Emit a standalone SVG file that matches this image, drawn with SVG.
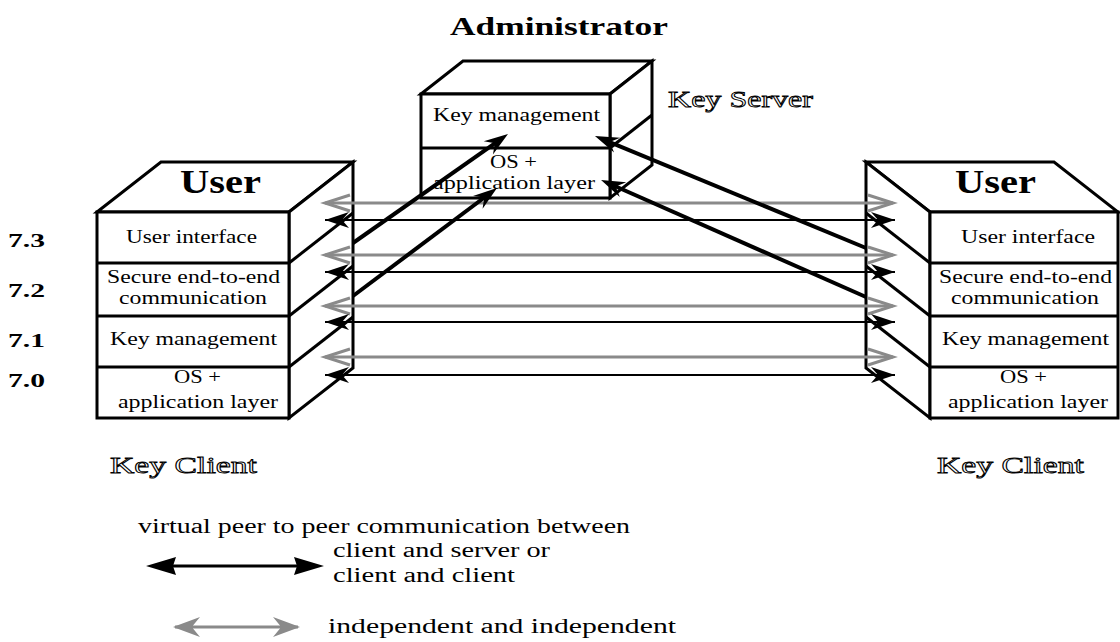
<svg xmlns="http://www.w3.org/2000/svg" width="1120" height="642" viewBox="0 0 1120 642">
<style>
.box{fill:#fff;stroke:#000;stroke-width:3;stroke-linejoin:miter}
.t{font-family:"Liberation Serif",serif;font-size:18px;fill:#000}
.b{font-family:"Liberation Serif",serif;font-weight:bold;fill:#000}
.o{font-family:"Liberation Serif",serif;font-size:24px;fill:#fff;stroke:#000;stroke-width:0.9}
.lg{font-family:"Liberation Serif",serif;font-size:20px;fill:#000}
.gray{stroke:#8a8a8a;stroke-width:3;fill:none}
.blk{stroke:#000;stroke-width:2;fill:none}
.thick{stroke:#000;stroke-width:4;fill:none}
</style>
<defs>
<marker id="mg" markerUnits="userSpaceOnUse" orient="auto-start-reverse" refX="0" refY="0" markerWidth="30" markerHeight="30" overflow="visible">
<path d="M-25,-8 L0,0 L-25,8" fill="none" stroke="#8a8a8a" stroke-width="3"/>
</marker>
<marker id="mb" markerUnits="userSpaceOnUse" orient="auto-start-reverse" refX="0" refY="0" markerWidth="30" markerHeight="30" overflow="visible">
<path d="M0,0 L-24,-8 L-17,0 L-24,8 Z" fill="#000"/>
</marker>
<marker id="mt" markerUnits="userSpaceOnUse" orient="auto" refX="-10" refY="0" markerWidth="30" markerHeight="30" overflow="visible">
<path d="M0,0 L-24,-8 L-16,0 L-24,8 Z" fill="#000"/>
</marker>
<marker id="lb" markerUnits="userSpaceOnUse" orient="auto-start-reverse" refX="-26" refY="0" markerWidth="40" markerHeight="40" overflow="visible">
<path d="M0,0 L-30,-9 L-27,0 L-30,9 Z" fill="#000"/>
</marker>
<marker id="lg" markerUnits="userSpaceOnUse" orient="auto-start-reverse" refX="-2" refY="0" markerWidth="40" markerHeight="40" overflow="visible">
<path d="M0,0 L-27,-10 L-20,-1.5 L-20,1.5 L-27,10 Z" fill="#8a8a8a"/>
</marker>
</defs>

<text class="b" x="450" y="35" font-size="26" textLength="218" lengthAdjust="spacingAndGlyphs">Administrator</text>

<g id="key-server">
<polygon class="box" points="421,94 463,61 652,61 610,94"/>
<polygon class="box" points="610,94 652,61 652,165 610,198"/>
<rect class="box" x="421" y="94" width="189" height="104"/>
<line class="box" x1="421" y1="148" x2="610" y2="148"/>
<line class="box" x1="610" y1="148" x2="652" y2="115"/>
<text class="t" x="433" y="121" textLength="167" lengthAdjust="spacingAndGlyphs">Key management</text>
<text class="t" x="490" y="168" textLength="47" lengthAdjust="spacingAndGlyphs">OS +</text>
<text class="t" x="433" y="189" textLength="162" lengthAdjust="spacingAndGlyphs">application layer</text>
<text class="o" x="668" y="107" textLength="145" lengthAdjust="spacingAndGlyphs">Key Server</text>
</g>

<g id="client-left">
<polygon class="box" points="97,212 161,162 353,162 289,212"/>
<polygon class="box" points="289,212 353,162 353,368 289,418"/>
<rect class="box" x="97" y="212" width="192" height="206"/>
<line class="box" x1="97" y1="263" x2="289" y2="263"/>
<line class="box" x1="97" y1="316" x2="289" y2="316"/>
<line class="box" x1="97" y1="367" x2="289" y2="367"/>
<line class="box" x1="289" y1="263" x2="353" y2="213"/>
<line class="box" x1="289" y1="316" x2="353" y2="266"/>
<line class="box" x1="289" y1="367" x2="353" y2="317"/>
<text class="b" x="180" y="193" font-size="33" textLength="81" lengthAdjust="spacingAndGlyphs">User</text>
<text class="t" x="126" y="243" textLength="131" lengthAdjust="spacingAndGlyphs">User interface</text>
<text class="t" x="107" y="283" textLength="173" lengthAdjust="spacingAndGlyphs">Secure end-to-end</text>
<text class="t" x="119" y="304" textLength="148" lengthAdjust="spacingAndGlyphs">communication</text>
<text class="t" x="110" y="345" textLength="167" lengthAdjust="spacingAndGlyphs">Key management</text>
<text class="t" x="174" y="383" textLength="47" lengthAdjust="spacingAndGlyphs">OS +</text>
<text class="t" x="118" y="408" textLength="160" lengthAdjust="spacingAndGlyphs">application layer</text>
<text class="o" x="110" y="473" textLength="147" lengthAdjust="spacingAndGlyphs">Key Client</text>
</g>

<g id="client-right">
<polygon class="box" points="930,212 866,162 1054,162 1118,212"/>
<polygon class="box" points="930,212 866,162 866,368 930,418"/>
<rect class="box" x="930" y="212" width="188" height="206"/>
<line class="box" x1="930" y1="263" x2="1118" y2="263"/>
<line class="box" x1="930" y1="316" x2="1118" y2="316"/>
<line class="box" x1="930" y1="367" x2="1118" y2="367"/>
<line class="box" x1="930" y1="263" x2="866" y2="213"/>
<line class="box" x1="930" y1="316" x2="866" y2="266"/>
<line class="box" x1="930" y1="367" x2="866" y2="317"/>
<text class="b" x="955" y="193" font-size="33" textLength="81" lengthAdjust="spacingAndGlyphs">User</text>
<text class="t" x="961" y="243" textLength="134" lengthAdjust="spacingAndGlyphs">User interface</text>
<text class="t" x="939" y="283" textLength="173" lengthAdjust="spacingAndGlyphs">Secure end-to-end</text>
<text class="t" x="951" y="304" textLength="148" lengthAdjust="spacingAndGlyphs">communication</text>
<text class="t" x="942" y="345" textLength="167" lengthAdjust="spacingAndGlyphs">Key management</text>
<text class="t" x="1000" y="383" textLength="47" lengthAdjust="spacingAndGlyphs">OS +</text>
<text class="t" x="948" y="408" textLength="160" lengthAdjust="spacingAndGlyphs">application layer</text>
<text class="o" x="937" y="473" textLength="147" lengthAdjust="spacingAndGlyphs">Key Client</text>
</g>

<g id="layer-labels">
<text class="b" x="8" y="247" font-size="19" textLength="37" lengthAdjust="spacingAndGlyphs">7.3</text>
<text class="b" x="8" y="297" font-size="19" textLength="37" lengthAdjust="spacingAndGlyphs">7.2</text>
<text class="b" x="8" y="347" font-size="19" textLength="37" lengthAdjust="spacingAndGlyphs">7.1</text>
<text class="b" x="8" y="387" font-size="19" textLength="37" lengthAdjust="spacingAndGlyphs">7.0</text>
</g>

<g id="connectors">
<line class="gray" x1="325" y1="203" x2="893" y2="203" marker-start="url(#mg)" marker-end="url(#mg)"/>
<line class="gray" x1="325" y1="255" x2="893" y2="255" marker-start="url(#mg)" marker-end="url(#mg)"/>
<line class="gray" x1="325" y1="306" x2="893" y2="306" marker-start="url(#mg)" marker-end="url(#mg)"/>
<line class="gray" x1="325" y1="357" x2="893" y2="357" marker-start="url(#mg)" marker-end="url(#mg)"/>
<line class="blk" x1="325" y1="220" x2="895" y2="220" marker-start="url(#mb)" marker-end="url(#mb)"/>
<line class="blk" x1="325" y1="272" x2="895" y2="272" marker-start="url(#mb)" marker-end="url(#mb)"/>
<line class="blk" x1="325" y1="322" x2="895" y2="322" marker-start="url(#mb)" marker-end="url(#mb)"/>
<line class="blk" x1="325" y1="375" x2="895" y2="375" marker-start="url(#mb)" marker-end="url(#mb)"/>
<line class="thick" x1="353" y1="243" x2="499.8" y2="139.8" marker-end="url(#mt)"/>
<line class="thick" x1="353" y1="296" x2="489" y2="194" marker-end="url(#mt)"/>
<line class="thick" x1="866" y1="248" x2="604.2" y2="139.8" marker-end="url(#mt)"/>
<line class="thick" x1="866" y1="297" x2="610.2" y2="184" marker-end="url(#mt)"/>
</g>

<g id="legend">
<text class="lg" x="138" y="533" textLength="492" lengthAdjust="spacingAndGlyphs">virtual peer to peer communication between</text>
<line x1="172" y1="566" x2="298" y2="566" stroke="#000" stroke-width="3" marker-start="url(#lb)" marker-end="url(#lb)"/>
<text class="lg" x="333" y="557" textLength="217" lengthAdjust="spacingAndGlyphs">client and server or</text>
<text class="lg" x="333" y="582" textLength="182" lengthAdjust="spacingAndGlyphs">client and client</text>
<line x1="175" y1="627" x2="298" y2="627" stroke="#8a8a8a" stroke-width="3" marker-start="url(#lg)" marker-end="url(#lg)"/>
<text class="lg" x="328" y="633" textLength="348" lengthAdjust="spacingAndGlyphs">independent and independent</text>
</g>
</svg>
